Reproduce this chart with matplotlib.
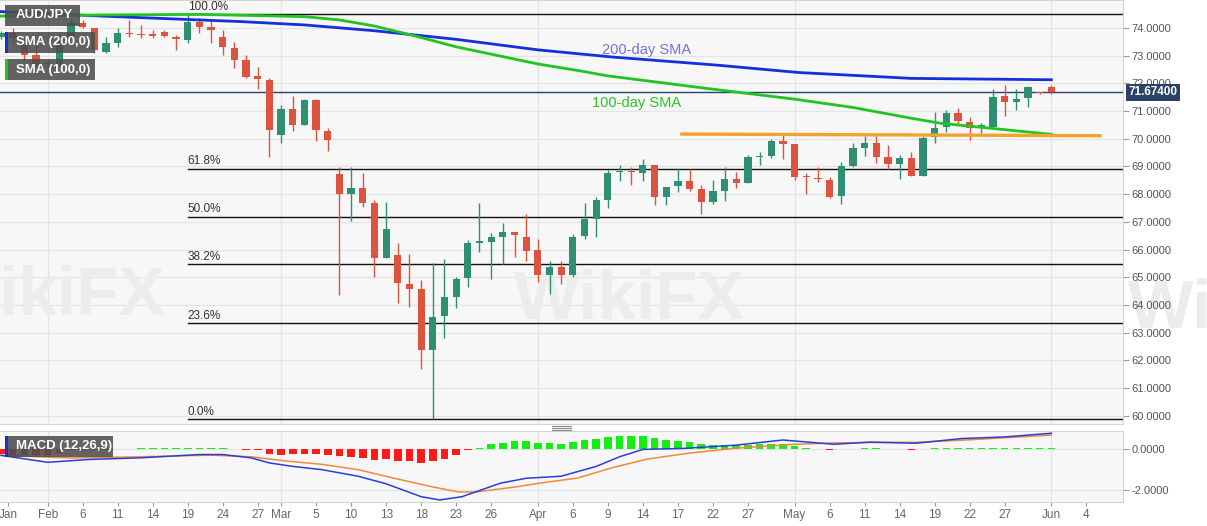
import matplotlib
matplotlib.use("Agg")
import matplotlib.pyplot as plt
from matplotlib.patches import Rectangle
from matplotlib.lines import Line2D
import numpy as np

plt.rcParams['font.family'] = ['Liberation Sans', 'DejaVu Sans']

# AUD/JPY daily candles, 28 Jan 2020 .. 1 Jun 2020 (bar index = position on chart)
opens = [73.68, 73.82, 73.39, 73.03, 72.75, 72.66, 73.68, 74.18, 74.00, 73.13,
         73.46, 73.81, 73.77, 73.77, 73.86, 73.68, 73.57, 74.22, 74.04, 73.68,
         73.28, 72.84, 72.27, 72.12, 70.14, 71.08, 70.50, 71.40, 70.28, 68.73,
         68.01, 68.22, 67.68, 65.70, 65.81, 64.76, 64.58, 62.38, 63.60, 64.29,
         64.96, 66.25, 66.27, 66.44, 66.64, 66.47, 65.99, 65.08, 65.37, 65.08,
         66.49, 67.10, 67.79, 68.80, 68.83, 68.78, 69.05, 67.91, 68.30, 68.48,
         68.18, 67.73, 68.13, 68.54, 68.42, 69.33, 69.36, 69.93, 69.80, 68.65,
         68.60, 68.51, 67.94, 69.02, 69.68, 69.86, 69.33, 69.09, 69.30, 68.66,
         70.05, 70.42, 70.92, 70.62, 70.38, 70.44, 71.55, 71.34, 71.46, 71.66,
         71.86]
highs = [73.90, 74.00, 73.57, 73.46, 72.85, 73.86, 74.29, 74.29, 74.00, 73.68,
         74.00, 74.29, 74.11, 73.93, 73.93, 73.75, 74.50, 74.36, 74.29, 73.93,
         73.50, 73.03, 72.59, 72.20, 71.22, 71.55, 71.45, 71.42, 70.39, 68.98,
         68.98, 68.77, 67.79, 67.72, 66.24, 65.84, 64.90, 65.53, 65.66, 65.00,
         66.35, 67.69, 66.60, 66.96, 66.64, 67.28, 66.38, 65.60, 65.60, 66.56,
         67.68, 67.91, 68.87, 69.05, 68.99, 69.26, 69.05, 68.27, 68.94, 68.91,
         68.33, 68.51, 68.97, 68.81, 69.40, 69.53, 69.98, 70.14, 69.80, 68.76,
         68.97, 68.63, 69.17, 69.84, 70.10, 70.10, 69.78, 69.42, 69.53, 70.10,
         70.98, 71.03, 71.10, 70.80, 70.58, 71.79, 71.94, 71.79, 71.91, 71.68,
         71.94]
lows = [73.60, 73.46, 72.84, 72.59, 72.60, 72.59, 73.64, 74.00, 73.10, 73.10,
        73.31, 73.68, 73.64, 73.64, 73.68, 73.21, 73.46, 73.82, 73.46, 73.03,
        72.55, 72.20, 71.80, 69.34, 69.85, 70.28, 70.48, 69.92, 69.56, 64.36,
        67.03, 67.54, 65.01, 65.70, 64.07, 63.93, 61.69, 59.88, 62.80, 63.90,
        64.65, 65.92, 64.94, 65.48, 65.74, 65.60, 64.84, 64.40, 64.77, 65.01,
        66.38, 66.47, 67.50, 68.49, 68.33, 68.49, 67.61, 67.61, 68.09, 68.10,
        67.29, 67.64, 67.77, 68.21, 68.40, 69.05, 69.30, 69.26, 68.51, 68.00,
        68.45, 67.85, 67.65, 68.99, 69.38, 69.14, 68.90, 68.54, 68.66, 68.66,
        69.86, 70.26, 70.50, 69.96, 70.22, 70.42, 70.82, 71.04, 71.14, 71.62,
        71.60]
closes = [73.82, 73.64, 73.03, 72.66, 72.70, 73.39, 74.18, 74.04, 73.21, 73.46,
          73.82, 73.77, 73.74, 73.72, 73.71, 73.60, 74.22, 74.04, 73.93, 73.31,
          72.84, 72.23, 72.15, 70.32, 71.08, 70.50, 71.40, 70.32, 69.96, 68.01,
          68.22, 67.68, 65.70, 66.74, 64.79, 64.58, 62.38, 63.57, 64.29, 64.93,
          66.25, 66.30, 66.44, 66.65, 66.52, 65.96, 65.08, 65.37, 65.08, 66.47,
          67.09, 67.79, 68.78, 68.83, 68.80, 69.05, 67.91, 68.27, 68.48, 68.18,
          67.73, 68.13, 68.54, 68.42, 69.33, 69.36, 69.93, 69.80, 68.63, 68.61,
          68.55, 67.91, 69.02, 69.66, 69.86, 69.33, 69.09, 69.30, 68.66, 70.02,
          70.40, 70.92, 70.65, 70.38, 70.50, 71.52, 71.34, 71.44, 71.88, 71.64,
          71.674]

# moving averages (bar index, price)
sma200_idx = [0, 8.6, 20.6, 26, 32, 39, 46, 52.4, 61.3, 68.4, 78, 90]
sma200_val = [74.59, 74.43, 74.23, 74.11, 73.90, 73.59, 73.21, 72.95, 72.66, 72.39, 72.18, 72.13]
sma100_idx = [0, 8.6, 17, 26, 29, 32, 35.5, 39, 46, 49.5, 52, 61, 68, 73, 78, 80.5, 90]
sma100_val = [74.43, 74.47, 74.49, 74.41, 74.29, 74.07, 73.71, 73.32, 72.70, 72.46, 72.27,
              71.79, 71.43, 71.13, 70.74, 70.56, 70.16]

# support line
support_idx = [58.2, 94.3]
support_val = [70.17, 70.11]

last_price = 71.674
fib_hi, fib_lo = 74.50, 59.88
fib_start = 16
fib_ratios = [1.0, 0.618, 0.5, 0.382, 0.236, 0.0]
fib_labels = ['100.0%', '61.8%', '50.0%', '38.2%', '23.6%', '0.0%']

# MACD (12,26,9)
macd_idx = [0, 4, 7.6, 12, 17, 19, 21.4, 23, 25, 27.5, 30.6, 33, 36, 37.6, 39.5, 42.8,
            45, 48, 51, 53, 55, 58.5, 63, 67, 71.4, 74.5, 78.4, 82.3, 86, 90]
macd_val = [-0.31, -0.65, -0.51, -0.43, -0.27, -0.27, -0.43, -0.68, -0.85, -1.01, -1.33,
            -1.70, -2.33, -2.49, -2.33, -1.67, -1.43, -1.33, -0.85, -0.38, -0.02, 0.03,
            0.19, 0.44, 0.23, 0.34, 0.28, 0.51, 0.59, 0.77]
signal_idx = [0, 6, 12, 18, 21.4, 24.5, 27.5, 30.6, 33.7, 36.8, 39.2, 40.7, 44.4, 46,
              49.4, 52.4, 55.4, 59, 63, 67.7, 71.4, 78.4, 83, 90]
signal_val = [-0.31, -0.44, -0.38, -0.30, -0.38, -0.59, -0.75, -1.01, -1.43, -1.83, -2.10,
              -2.10, -1.83, -1.68, -1.42, -0.91, -0.49, -0.20, 0.04, 0.22, 0.30, 0.33,
              0.45, 0.68]
hist = [-0.25, -0.30, -0.30, -0.30, -0.28, -0.20, -0.05, -0.03, -0.05, -0.04,
        0.02, 0.02, 0.03, 0.04, 0.04, 0.05, 0.06, 0.06, 0.05, 0.05,
        0.0, -0.05, -0.07, -0.23, -0.27, -0.22, -0.22, -0.23, -0.27, -0.35,
        -0.38, -0.42, -0.53, -0.50, -0.57, -0.57, -0.67, -0.58, -0.47, -0.30,
        -0.05, 0.05, 0.23, 0.28, 0.37, 0.37, 0.28, 0.28, 0.25, 0.33,
        0.42, 0.50, 0.58, 0.65, 0.65, 0.65, 0.53, 0.45, 0.40, 0.33,
        0.25, 0.20, 0.20, 0.20, 0.20, 0.23, 0.25, 0.25, 0.15, 0.03,
        0.02, -0.03, -0.02, 0.02, 0.04, 0.03, 0.02, -0.01, -0.03, 0.01,
        0.04, 0.06, 0.07, 0.05, 0.04, 0.07, 0.07, 0.07, 0.07, 0.06,
        0.05]

# x-axis labels (bar index, text)
tick_pos = [0.6, 4, 7, 10, 13, 16, 19, 22, 24, 27, 30, 33, 36, 39, 42, 46, 49, 52, 55,
            58, 61, 64, 68, 71, 74, 77, 80, 83, 86, 90, 93]
tick_txt = ['Jan', 'Feb', '6', '11', '14', '19', '24', '27', 'Mar', '5', '10', '13', '18',
            '23', '26', 'Apr', '6', '9', '14', '17', '22', '27', 'May', '6', '11', '14',
            '19', '22', '27', 'Jun', '4']
month_pos = [4, 24, 46, 68, 90]

W, H = 1207, 526
fig = plt.figure(figsize=(W / 100, H / 100), dpi=100)
fig.patch.set_facecolor('white')


def fbox(x0, y0, x1, y1):
    # pixel box (top-left origin) -> figure fraction rect
    return [x0 / W, 1 - y1 / H, (x1 - x0) / W, (y1 - y0) / H]


ax = fig.add_axes(fbox(0, 0, 1123, 424))
ax2 = fig.add_axes(fbox(0, 431, 1123, 502), sharex=ax)

bg = '#f7f7f7'
grid_c = '#e4e4e4'
for a in (ax, ax2):
    a.set_facecolor(bg)
    for s in a.spines.values():
        s.set_color('#d4d4d4')
        s.set_linewidth(0.8)
    a.spines['left'].set_visible(False)
    for m in month_pos:
        a.axvline(m, color=grid_c, lw=0.9, zorder=0)

# faint watermarks
wm = dict(fontsize=50, fontweight='bold', color='#ececec', va='center')
ax.text(0.56, 0.29, 'WikiFX', transform=ax.transAxes, ha='center', zorder=0.5, **wm)
ax.text(0.045, 0.30, 'WikiFX', transform=ax.transAxes, ha='center', zorder=0.5, **wm)
fig.text(1.03, 0.41, 'WikiFX', ha='center', zorder=-1, **wm)

# price grid
ax.set_ylim(59.70, 75.01)
ax.set_xlim(-0.086, 96.14)
yt = np.arange(60, 75, 1)
ax.set_yticks(yt)
ax.set_yticklabels([f'{v:.4f}' for v in yt])
for v in yt:
    ax.axhline(v, color=grid_c, lw=0.9, zorder=0)

# candles
up_c, dn_c = '#2f8f72', '#dc5440'
idx = np.arange(len(opens))
o = np.array(opens); c = np.array(closes)
cols = [up_c if cc >= oo else dn_c for oo, cc in zip(o, c)]
ax.vlines(idx, lows, highs, colors=cols, lw=1.0, zorder=3)
body_h = np.maximum(np.abs(c - o), 0.03)
ax.bar(idx, body_h, bottom=np.minimum(o, c), width=0.62, color=cols, zorder=4, linewidth=0)

# SMAs and support
ax.plot(sma200_idx, sma200_val, color='#1430d8', lw=2.0, zorder=5)
ax.plot(sma100_idx, sma100_val, color='#22c422', lw=2.0, zorder=5)
ax.plot(support_idx, support_val, color='#f3a22c', lw=2.4, zorder=5, solid_capstyle='butt')
ax.text(51.5, 73.05, '200-day SMA', color='#7272e0', fontsize=10.5, zorder=6)
ax.text(50.6, 71.15, '100-day SMA', color='#2bc42b', fontsize=10.5, zorder=6)

# fibonacci retracement
for r, lab in zip(fib_ratios, fib_labels):
    lv = fib_lo + r * (fib_hi - fib_lo)
    ax.plot([fib_start, ax.get_xlim()[1]], [lv, lv], color='#111111', lw=1.0, zorder=2)
    ax.text(fib_start, lv + 0.05, lab, fontsize=8.5, color='#333333', va='bottom', zorder=6)

# last price line and tag
ax.axhline(last_price, color='#2c4262', lw=1.0, zorder=2)
ax.text(1.005, last_price, f'{last_price:.5f}', transform=ax.get_yaxis_transform(),
        fontsize=8.5, fontweight='bold', color='white', va='center', ha='left', zorder=10,
        clip_on=False, bbox=dict(boxstyle='square,pad=0.22', fc='#2a4265', ec='none'))

ax.yaxis.tick_right()
ax.tick_params(axis='y', colors='#999999', labelcolor='#555555', labelsize=8, length=4, width=0.8, pad=2)
ax.tick_params(axis='x', bottom=False, labelbottom=False)

# MACD panel
ax2.set_ylim(-2.59, 0.88)
ax2.set_yticks([0, -2])
ax2.set_yticklabels(['0.0000', '-2.0000'])
for v in (0, -2):
    ax2.axhline(v, color=grid_c, lw=0.9, zorder=0)
hcols = ['#13ee13' if h >= 0 else '#ff1a1a' for h in hist]
ax2.bar(idx, hist, width=0.65, color=hcols, zorder=3, linewidth=0)
ax2.plot(signal_idx, signal_val, color='#f08a3a', lw=1.1, zorder=4)
ax2.plot(macd_idx, macd_val, color='#2a3ed6', lw=1.1, zorder=5)
ax2.yaxis.tick_right()
ax2.tick_params(axis='y', colors='#999999', labelcolor='#555555', labelsize=8, length=4, width=0.8, pad=2)
ax2.set_xticks(tick_pos)
ax2.set_xticklabels(tick_txt)
ax2.tick_params(axis='x', colors='#999999', labelcolor='#666666', labelsize=8.5, length=3, width=0.8, pad=2)

# legend boxes
def legend_box(x0, y0, x1, y1, text, bar_color=None):
    fig.patches.append(Rectangle(fbox(x0, y0, x1, y1)[:2], (x1 - x0) / W, (y1 - y0) / H,
                                 transform=fig.transFigure, fc='#4d4d4d', alpha=0.88,
                                 ec='none', zorder=20))
    if bar_color:
        fig.patches.append(Rectangle(fbox(x0, y0, x0 + 2.5, y1)[:2], 2.5 / W, (y1 - y0) / H,
                                     transform=fig.transFigure, fc=bar_color, ec='none', zorder=21))
    fig.text((x0 + 11) / W, 1 - (y0 + y1) / 2 / H, text, color='white', fontsize=9.5,
             fontweight='bold', va='center', ha='left', zorder=22)

legend_box(5, 5, 80, 26, 'AUD/JPY')
legend_box(5, 32, 95, 53, 'SMA (200,0)', '#1430d8')
legend_box(5, 59, 95, 80, 'SMA (100,0)', '#22c422')
legend_box(5, 436, 113, 457, 'MACD (12,26,9)', '#1430d8')

# panel splitter handle
for yy in (425.5, 427.5, 429.5):
    fig.lines.append(Line2D([552 / W, 571 / W], [1 - yy / H, 1 - yy / H],
                            transform=fig.transFigure, color='#8a8a8a', lw=0.8))

fig.savefig('out.png', dpi=100, facecolor='white')
